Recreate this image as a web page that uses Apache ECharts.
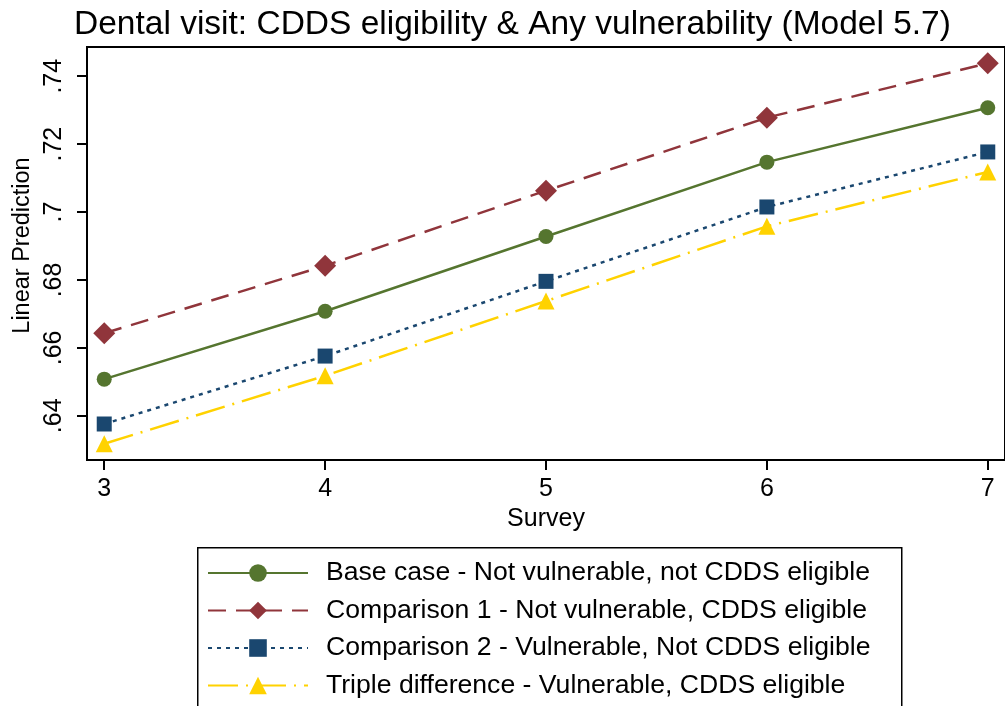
<!DOCTYPE html>
<html>
<head>
<meta charset="utf-8">
<script src="https://cdn.jsdelivr.net/npm/echarts@6/dist/echarts.min.js"></script>
<style>html,body{margin:0;padding:0;background:#fff;}#c{width:1005px;height:706px;}</style>
</head>
<body>
<div id="c"></div>
<script>
const surveys = [3, 4, 5, 6, 7];
const baseCase = [0.6508, 0.6708, 0.6928, 0.7147, 0.7307];
const comparison1 = [0.6643, 0.6842, 0.7063, 0.7278, 0.7438];
const comparison2 = [0.6376, 0.6576, 0.6796, 0.7015, 0.7177];
const tripleDiff = [0.6318, 0.6518, 0.6738, 0.6958, 0.7118];
const yTicks = [0.64, 0.66, 0.68, 0.70, 0.72, 0.74];
const xTicks = [3, 4, 5, 6, 7];
const names = [
  'Base case - Not vulnerable, not CDDS eligible',
  'Comparison 1 - Not vulnerable, CDDS eligible',
  'Comparison 2 - Vulnerable, Not CDDS eligible',
  'Triple difference - Vulnerable, CDDS eligible'
];
const FONT = '"Liberation Sans", Arial, sans-serif';
const pair = arr => surveys.map((s, i) => [s, arr[i]]);

const chart = echarts.init(document.getElementById('c'), null, {renderer: 'canvas'});
chart.setOption({
  animation: false,
  backgroundColor: '#fff',
  title: {
    text: 'Dental visit: CDDS eligibility & Any vulnerability (Model 5.7)',
    left: 69, top: 3,
    textStyle: {fontFamily: FONT, fontSize: 33.5, fontWeight: 'normal', color: '#000'}
  },
  graphic: [{
    type: 'rect', left: 197, top: 547, z: 0,
    shape: {width: 704, height: 200},
    style: {fill: '#fff', stroke: '#000', lineWidth: 1.5}
  }],
  grid: {left: 87, top: 47, width: 924, height: 413, show: true, borderColor: '#000', borderWidth: 2, backgroundColor: '#fff'},
  xAxis: {
    type: 'value', min: 2.922, max: 7.078,
    name: 'Survey', nameLocation: 'middle', nameGap: 42,
    nameTextStyle: {fontFamily: FONT, fontSize: 25, color: '#000'},
    axisLine: {show: true, lineStyle: {color: '#000', width: 2}},
    axisTick: {show: true, length: 10, lineStyle: {color: '#000', width: 2}, customValues: xTicks},
    axisLabel: {fontFamily: FONT, fontSize: 25, color: '#000', margin: 17, customValues: xTicks, formatter: v => String(v)},
    splitLine: {show: false}
  },
  yAxis: {
    type: 'value', min: 0.627, max: 0.7486,
    name: 'Linear Prediction', nameLocation: 'middle', nameGap: 52, nameRotate: 90,
    nameTextStyle: {fontFamily: FONT, fontSize: 23.5, color: '#000', padding: [0, 0, 0, 16]},
    axisLine: {show: true, lineStyle: {color: '#000', width: 2}},
    axisTick: {show: true, length: 10, lineStyle: {color: '#000', width: 2}, customValues: yTicks},
    axisLabel: {fontFamily: FONT, fontSize: 25, color: '#000', margin: 20, rotate: 90, customValues: yTicks,
      formatter: v => {
        let s = (Math.round(v * 100) / 100).toString();
        return s.replace(/^0/, '');
      }},
    splitLine: {show: false}
  },
  legend: {
    orient: 'vertical', left: 207, top: 559, height: 300,
    padding: 0, z: 5,
    itemWidth: 100, itemHeight: 22, itemGap: 9.5,
    textStyle: {fontFamily: FONT, fontSize: 26.6, color: '#000', lineHeight: 28, padding: [0, 0, 0, 13]},
    data: names
  },
  series: [
    {name: names[0], type: 'line', data: pair(baseCase), symbol: 'circle', symbolSize: 15,
      itemStyle: {color: '#55752f'}, lineStyle: {color: '#55752f', width: 2.5, type: 'solid'}},
    {name: names[1], type: 'line', data: pair(comparison1), symbol: 'diamond', symbolSize: 22,
      itemStyle: {color: '#90353b'}, lineStyle: {color: '#90353b', width: 2.5, type: [18, 10]}},
    {name: names[2], type: 'line', data: pair(comparison2), symbol: 'rect', symbolSize: 15,
      itemStyle: {color: '#1a476f'}, lineStyle: {color: '#1a476f', width: 2.5, type: [4, 5]}},
    {name: names[3], type: 'line', data: pair(tripleDiff), symbol: 'triangle', symbolSize: 17,
      itemStyle: {color: '#ffd200'}, lineStyle: {color: '#ffd200', width: 2.5, type: [30, 8, 2, 8]}}
  ]
});
</script>
</body>
</html>
